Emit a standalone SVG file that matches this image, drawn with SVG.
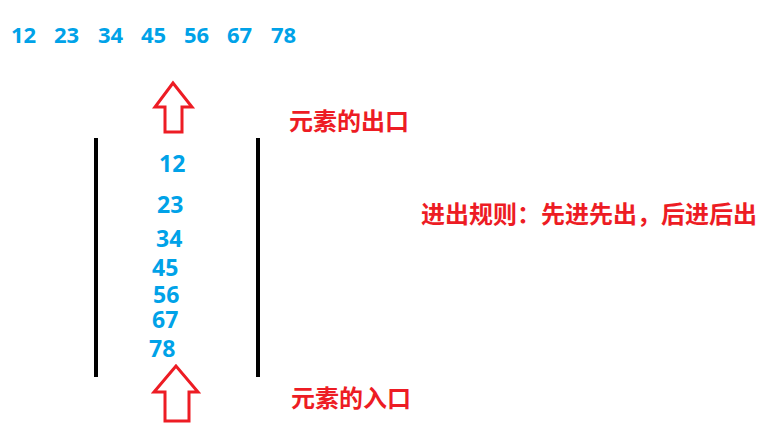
<svg xmlns="http://www.w3.org/2000/svg" width="765" height="425" viewBox="0 0 765 425">
<style>
.num{font-family:"Open Sans","Liberation Sans",sans-serif;font-weight:bold;fill:#00A2E8;}
.top{font-size:22px;}
.stk{font-size:23px;}
.lbl{font-family:"Noto Sans CJK SC","Noto Sans",sans-serif;font-weight:bold;fill:#ED1C24;font-size:24px;}
.arrow{fill:#fff;stroke:#ED1C24;stroke-width:3;stroke-linejoin:miter;}
.bar{fill:#000;}
</style>
<rect width="765" height="425" fill="#fff"/>
<g id="sequence">
<text class="num top" x="11" y="43">12</text>
<text class="num top" x="54" y="43">23</text>
<text class="num top" x="98" y="43">34</text>
<text class="num top" x="141" y="43">45</text>
<text class="num top" x="184" y="43">56</text>
<text class="num top" x="227" y="43">67</text>
<text class="num top" x="271" y="43">78</text>
</g>
<g id="queue">
<rect class="bar" x="94" y="138" width="4" height="239"/>
<rect class="bar" x="256" y="138" width="4" height="239"/>
<text class="num stk" x="159" y="172">12</text>
<text class="num stk" x="157" y="213">23</text>
<text class="num stk" x="156" y="247">34</text>
<text class="num stk" x="152" y="276">45</text>
<text class="num stk" x="153" y="303">56</text>
<text class="num stk" x="152" y="328">67</text>
<text class="num stk" x="149" y="357">78</text>
</g>
<g id="exit-arrow">
<path class="arrow" d="M173,83 L155,107 L165,107 L165,132 L182,132 L182,107 L192,107 Z"/>
</g>
<g id="entry-arrow">
<path class="arrow" d="M176,366 L154,392 L165,392 L165,421 L189,421 L189,392 L198,392 Z"/>
</g>
<g id="labels">
<text class="lbl" x="289" y="130">元素的出口</text>
<text class="lbl" x="421" y="223">进出规则：先进先出，后进后出</text>
<text class="lbl" x="291" y="407">元素的入口</text>
</g>
</svg>
